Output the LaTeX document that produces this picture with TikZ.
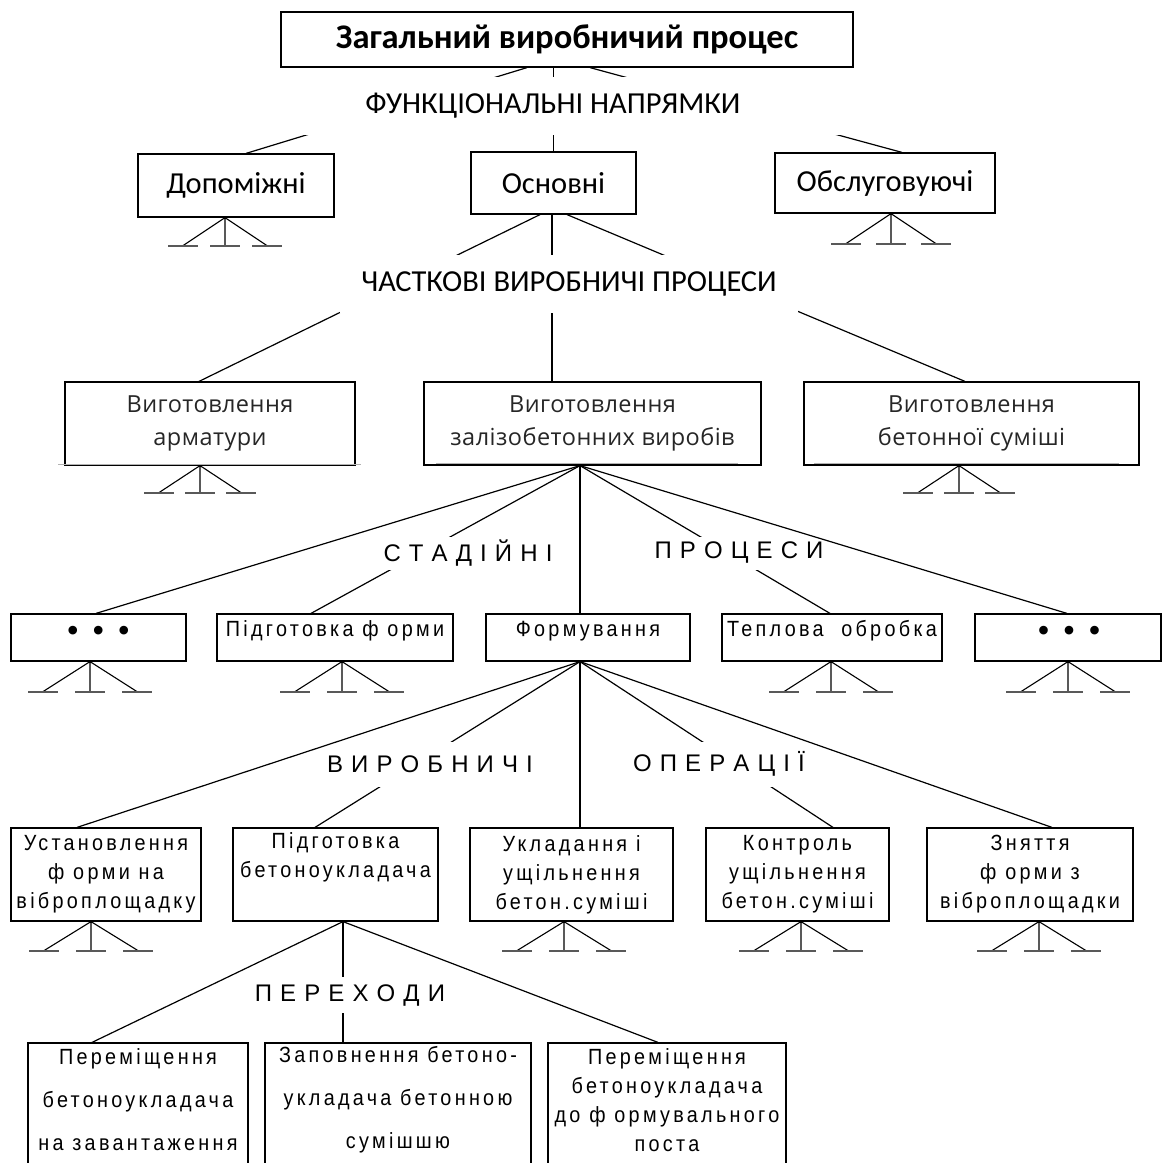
\documentclass[tikz,border=0pt]{standalone}
\usepackage{fontspec}
\setmainfont{Liberation Sans}
\newfontfamily\calfam{Carlito}
\newfontfamily\segfam[LetterSpace=2]{Open Sans}
\newfontfamily\narfam[FakeStretch=0.9,LetterSpace=15]{Liberation Sans}
\newfontfamily\spcfam[LetterSpace=6]{Liberation Sans}
\newcommand\fTitle{\calfam\bfseries\fontsize{34.5}{40}\selectfont}
\newcommand\fCal{\calfam\fontsize{30.5}{34}\selectfont}
\newcommand\fSeg{\segfam\fontsize{23.5}{33}\selectfont}
\newcommand\fBox{\narfam\fontsize{22}{29}\selectfont}
\newcommand\fBoxWide{\narfam\fontsize{22}{43}\selectfont}
\newcommand\fStage{\spcfam\fontsize{24}{29}\selectfont}
\newcommand\fDots{\rmfamily\bfseries\fontsize{30}{30}\selectfont}
% three legs with feet under a box: node, x offset, drop, spread
\newcommand\legs[4]{%
  \draw[leg] ([xshift=#2]#1.south) -- ++(-#4,#3)
             ([xshift=#2]#1.south) -- ++(0,#3)
             ([xshift=#2]#1.south) -- ++(#4,#3);
  \draw[foot] ([xshift=#2]#1.south) ++(-#4-15,#3) -- ++(30,0)
              ([xshift=#2]#1.south) ++(-15,#3) -- ++(30,0)
              ([xshift=#2]#1.south) ++(#4-15,#3) -- ++(30,0);
}
\begin{document}
\begin{tikzpicture}[x=1pt,y=-1pt,
  box/.style={draw, line width=1.2pt, rectangle, inner sep=0pt, align=center},
  txt/.style={inner sep=0pt, align=center},
  conn/.style={line width=1.2pt},
  leg/.style={line width=1.1pt},
  foot/.style={line width=2.2pt, black!65},
  graytrace/.style={line width=1.6pt, gray!60},
  cover/.style={fill=white, inner sep=1pt, align=center},
]
\useasboundingbox (0,0) rectangle (1162,1163);
\clip (0,0) rectangle (1162,1163);

% ---------- top level ----------
\node[box, minimum width=572pt, minimum height=55pt, font=\fTitle] (gen) at (567,39.5) {Загальний виробничий процес};

\node[box, minimum width=196pt, minimum height=63pt, font=\fCal] (dop) at (236,185.5) {Допоміжні};
\node[box, minimum width=165pt, minimum height=62pt, font=\fCal] (osn) at (553.5,183) {Основні};
\node[box, minimum width=220pt, minimum height=60pt, font=\fCal] (obs) at (885,183) {Обслуговуючі};

\draw[conn] ([xshift=-40pt]gen.south) -- ([xshift=10pt]dop.north);
\draw[conn] (gen.south -| osn.north) -- (osn.north);
\draw[conn] ([xshift=23pt]gen.south) -- ([xshift=17pt]obs.north);
\node[cover, minimum width=594pt, minimum height=58pt, font=\fCal] (fn) at (553,105.5) {ФУНКЦІОНАЛЬНІ НАПРЯМКИ};

\legs{dop}{-11pt}{28}{42}
\legs{obs}{6pt}{30}{45}

% ---------- partial processes ----------
\node[box, minimum width=290pt, minimum height=83pt, font=\fSeg, text=black!85] (arm) at (210,423.5) {Виготовлення\\арматури};
\node[box, minimum width=337pt, minimum height=83pt, font=\fSeg, text=black!85] (zal) at (592.5,423.5) {Виготовлення\\залізобетонних виробів};
\node[box, minimum width=335pt, minimum height=83pt, font=\fSeg, text=black!85] (bet) at (971.5,423.5) {Виготовлення\\бетонної суміші};
\draw[graytrace] ([xshift=-6pt,yshift=1pt]arm.south west) -- ([xshift=5pt,yshift=1pt]arm.south east);
\draw[graytrace] ([xshift=13pt,yshift=2pt]zal.south west) -- ([xshift=-24pt,yshift=2pt]zal.south east);
\draw[graytrace] ([xshift=11pt,yshift=2pt]bet.south west) -- ([xshift=-21pt,yshift=2pt]bet.south east);

\draw[conn] ([xshift=-13.5pt]osn.south) -- ([xshift=-11pt]arm.north);
\draw[conn] ([xshift=-1.5pt]osn.south) -- ([xshift=-1.5pt]osn.south |- zal.north);
\draw[conn] ([xshift=13.5pt]osn.south) -- ([xshift=-6.5pt]bet.north);
\node[cover, minimum width=458pt, minimum height=58pt, font=\fCal] (pp) at (569,284) {ЧАСТКОВІ ВИРОБНИЧІ ПРОЦЕСИ};

\legs{arm}{-10pt}{27}{41}
\legs{bet}{-12.5pt}{27}{41}

% ---------- stages ----------
\node[box, minimum width=175pt, minimum height=47pt] (d1) at (98.5,637.5) {};
\node[box, minimum width=236pt, minimum height=47pt] (pf) at (335,637.5) {};
\node[box, minimum width=204pt, minimum height=47pt] (frm) at (588,637.5) {};
\node[box, minimum width=220pt, minimum height=47pt] (tep) at (832,637.5) {};
\node[box, minimum width=186pt, minimum height=47pt] (d2) at (1068,637.5) {};
\node[txt, font=\fDots] (d1t) at (98.5,633) {•\hspace{15pt}•\hspace{15pt}•};
\node[txt, font=\fBox] (pft) at (335,631) {Підготовка ф орми};
\node[txt, font=\fBox] (frmt) at (588,631) {Формування};
\node[txt, font=\fBox] (tept) at (832,631) {Теплова\ \ обробка};
\node[txt, font=\fDots] (d2t) at (1069,633) {•\hspace{15pt}•\hspace{15pt}•};

\coordinate (zs) at ([xshift=-12.5pt]zal.south);
\draw[conn] (zs) -- ([xshift=-24pt]pf.north);
\draw[conn] (zs) -- ([xshift=-2pt]tep.north);
\node[cover, minimum height=33pt, font=\fStage] (st) at (468,553) {С Т А Д І Й Н І};
\node[cover, minimum height=33pt, font=\fStage] (pr) at (739,553) {П Р О Ц Е С И};
\draw[conn] (zs) -- ([xshift=-2.5pt]d1.north);
\draw[conn] (zs) -- (zs |- frm.north);
\draw[conn] (zs) -- ([xshift=-1pt]d2.north);

\legs{d1}{-8.5pt}{30}{47}
\legs{pf}{7pt}{30}{47}
\legs{tep}{-1pt}{30}{47}
\legs{d2}{0pt}{30}{47}

% ---------- operations ----------
\node[box, minimum width=190pt, minimum height=93pt, font=\fBox] (u1) at (106,874.5) {Установлення\\ф орми на\\віброплощадку};
\node[box, minimum width=205pt, minimum height=93pt] (u2) at (335.5,874.5) {};
\node[box, minimum width=203pt, minimum height=93pt, font=\fBox] (u3) at (571.5,874.5) {Укладання і\\ущільнення\\бетон.суміші};
\node[box, minimum width=183pt, minimum height=93pt, font=\fBox] (u4) at (797.5,874.5) {Контроль\\ущільнення\\бетон.суміші};
\node[box, minimum width=206pt, minimum height=93pt, font=\fBox] (u5) at (1030,874.5) {Зняття\\ф орми з\\віброплощадки};
\node[txt, font=\fBox] (u2t) at (335.5,857.5) {Підготовка\\бетоноукладача};

\coordinate (fs) at ([xshift=-8pt]frm.south);
\draw[conn] (fs) -- ([xshift=-20.5pt]u2.north);
\draw[conn] (fs) -- ([xshift=35.5pt]u4.north);
\node[cover, minimum height=45pt, font=\fStage] (vy) at (430,764) {В И Р О Б Н И Ч І};
\node[cover, minimum height=45pt, font=\fStage] (op) at (719,764) {О П Е Р А Ц І Ї};
\draw[conn] (fs) -- ([xshift=-29pt]u1.north);
\draw[conn] (fs) -- (fs |- u3.north);
\draw[conn] (fs) -- ([xshift=22pt]u5.north);

\legs{u1}{-15pt}{29}{47}
\legs{u3}{-7.5pt}{29}{47}
\legs{u4}{3.5pt}{29}{47}
\legs{u5}{9pt}{29}{47}

% ---------- transitions ----------
\node[box, minimum width=220pt, minimum height=142pt] (p1) at (138,1114) {};
\node[box, minimum width=266pt, minimum height=142pt] (p2) at (398,1114) {};
\node[box, minimum width=238pt, minimum height=142pt] (p3) at (667,1114) {};
\node[txt, font=\fBoxWide] (p1t) at (138,1100) {Переміщення\\бетоноукладача\\на завантаження};
\node[txt, font=\fBoxWide] (p2t) at (398,1100) {Заповнення бетоно-\\укладача бетонною\\сумішшю};
\node[txt, font=\fBox] (p3t) at (667,1100) {Переміщення\\бетоноукладача\\до ф ормувального\\поста};

\coordinate (us) at ([xshift=7.5pt]u2.south);
\draw[conn] (us) -- (us |- p2.north);
\node[cover, minimum height=36pt, font=\fStage] (px) at (350,995) {П Е Р Е Х О Д И};
\draw[conn] (us) -- ([xshift=-46pt]p1.north);
\draw[conn] (us) -- ([xshift=-9pt]p3.north);
\end{tikzpicture}
\end{document}
